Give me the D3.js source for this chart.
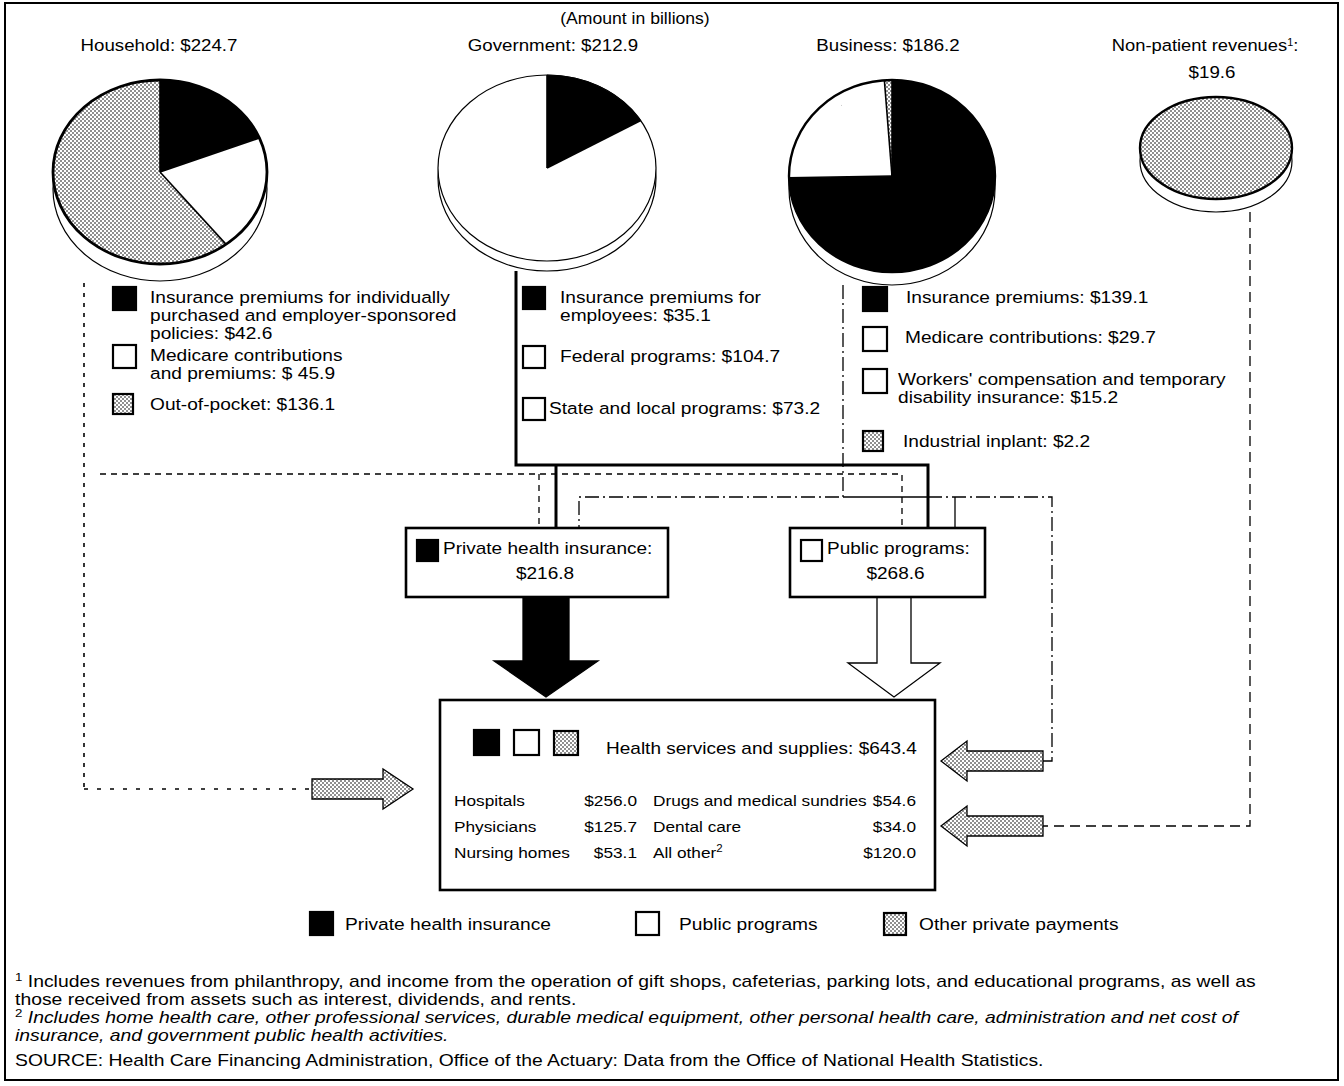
<!DOCTYPE html>
<html>
<head>
<meta charset="utf-8">
<script src="https://cdn.jsdelivr.net/npm/d3@7"></script>
<style>
  body { margin: 0; background: #fff; }
  svg text { font-family: "Liberation Sans", Arial, Helvetica, sans-serif; fill: #000; }
</style>
</head>
<body>
<svg id="chart" width="1344" height="1086"></svg>
<script>
// ---- data (amounts in billions) ----
var sourceNames = ["Household", "Government", "Business", "Non-patient revenues"];
var sourceTotals = [224.7, 212.9, 186.2, 19.6];

var householdLabels = [["Insurance premiums for individually", "purchased and employer-sponsored", "policies: $42.6"],
                       ["Medicare contributions", "and premiums: $ 45.9"],
                       ["Out-of-pocket: $136.1"]];
var householdValues = [42.6, 45.9, 136.1];
var householdKinds = ["private", "public", "other"];

var governmentLabels = [["Insurance premiums for", "employees: $35.1"],
                        ["Federal programs: $104.7"],
                        ["State and local programs: $73.2"]];
var governmentValues = [35.1, 104.7, 73.2];
var governmentKinds = ["private", "public", "public"];

var businessLabels = [["Insurance premiums: $139.1"],
                      ["Medicare contributions: $29.7"],
                      ["Workers' compensation and temporary", "disability insurance: $15.2"],
                      ["Industrial inplant: $2.2"]];
var businessValues = [139.1, 29.7, 15.2, 2.2];
var businessKinds = ["private", "public", "public", "other"];

var nonPatientValues = [19.6];
var nonPatientKinds = ["other"];

var channelNames = ["Private health insurance", "Public programs"];
var channelTotals = [216.8, 268.6];
var channelKinds = ["private", "public"];

var servicesTotal = 643.4;
var serviceNames = ["Hospitals", "Physicians", "Nursing homes", "Drugs and medical sundries", "Dental care", "All other"];
var serviceValues = [256.0, 125.7, 53.1, 54.6, 34.0, 120.0];

var legendKinds = ["private", "public", "other"];
var legendNames = ["Private health insurance", "Public programs", "Other private payments"];

var footnotes = [
  "Includes revenues from philanthropy, and income from the operation of gift shops, cafeterias, parking lots, and educational programs, as well as",
  "those received from assets such as interest, dividends, and rents.",
  "Includes home health care, other professional services, durable medical equipment, other personal health care, administration and net cost of",
  "insurance, and government public health activities.",
  "SOURCE: Health Care Financing Administration, Office of the Actuary: Data from the Office of National Health Statistics."
];

var svg = d3.select("#chart");
var fmt = d3.format(".1f");

// stipple fill used for "other private payments"
var defs = svg.append("defs");
var pat = defs.append("pattern").attr("id", "stip")
  .attr("width", 4).attr("height", 4).attr("patternUnits", "userSpaceOnUse");
pat.append("rect").attr("width", 4).attr("height", 4).attr("fill", "#fff");
pat.append("circle").attr("cx", 1).attr("cy", 1).attr("r", 0.8).attr("fill", "#000");
pat.append("circle").attr("cx", 3).attr("cy", 3).attr("r", 0.8).attr("fill", "#000");

function kindFill(k) {
  if (k == "private") return "#000";
  if (k == "public") return "#fff";
  return "url(#stip)";
}

// the scanned lettering is wider than Liberation Sans, so text gets a horizontal stretch
function addText(x, y, str, size, sx, anchor) {
  return svg.append("text")
    .attr("transform", "translate(" + x + "," + y + ") scale(" + sx + ",1)")
    .attr("text-anchor", anchor || "start")
    .style("font-size", size + "px")
    .text(str);
}

// outer frame
svg.append("rect").attr("x", 5).attr("y", 3).attr("width", 1333).attr("height", 1077)
  .attr("fill", "none").attr("stroke", "#000").attr("stroke-width", 2);

addText(635, 24, "(Amount in billions)", 16, 1.1, "middle");

/* ---- pies, drawn as tilted discs ---- */
var pieGen = d3.pie().sort(null).value(function(d) { return d; });

function slicePath(d, cx, cy, rx, ry) {
  if (d.endAngle - d.startAngle >= 2 * Math.PI - 1e-6) {
    return "M" + (cx - rx) + "," + cy + "A" + rx + "," + ry + " 0 1 1 " + (cx + rx) + "," + cy +
           "A" + rx + "," + ry + " 0 1 1 " + (cx - rx) + "," + cy + "Z";
  }
  var x0 = cx + rx * Math.sin(d.startAngle), y0 = cy - ry * Math.cos(d.startAngle),
      x1 = cx + rx * Math.sin(d.endAngle), y1 = cy - ry * Math.cos(d.endAngle),
      large = (d.endAngle - d.startAngle) > Math.PI ? 1 : 0;
  return "M" + cx + "," + cy + "L" + x0 + "," + y0 +
         "A" + rx + "," + ry + " 0 " + large + " 1 " + x1 + "," + y1 + "Z";
}

function drawPie(values, kinds, cx, cy, rx, ry, depth, edge) {
  var g = svg.append("g");
  var arcs = pieGen(values);
  // rim of the disc
  g.append("ellipse").attr("cx", cx).attr("cy", cy + depth).attr("rx", rx).attr("ry", ry)
    .attr("fill", "#fff").attr("stroke", "#000").attr("stroke-width", 1.2);
  g.selectAll("path.slice").data(arcs).enter().append("path")
    .attr("class", "slice")
    .attr("d", function(d) { return slicePath(d, cx, cy, rx, ry); })
    .attr("fill", function(d, i) { return kindFill(kinds[i]); })
    .attr("stroke", function(d, i) { return kinds[i] == "private" ? "#000" : "none"; })
    .attr("stroke-width", 0.8);
  // edges only where the fill changes (slices of the same kind read as one)
  arcs.forEach(function(d, i) {
    var prev = kinds[(i - 1 + kinds.length) % kinds.length];
    if (arcs.length > 1 && prev != kinds[i]) {
      g.append("line").attr("x1", cx).attr("y1", cy)
        .attr("x2", cx + rx * Math.sin(d.startAngle)).attr("y2", cy - ry * Math.cos(d.startAngle))
        .attr("stroke", "#000").attr("stroke-width", 1.6);
    }
  });
  g.append("ellipse").attr("cx", cx).attr("cy", cy).attr("rx", rx).attr("ry", ry)
    .attr("fill", "none").attr("stroke", "#000").attr("stroke-width", edge);
}

drawPie(householdValues, householdKinds, 160, 172, 107, 92, 17, 2.8);
drawPie(governmentValues, governmentKinds, 547, 168, 109, 93, 10, 1.2);
drawPie(businessValues, businessKinds, 892, 176, 103, 96, 13, 2.4);
drawPie(nonPatientValues, nonPatientKinds, 1216, 148, 76, 51, 13, 2.4);

// pie headers
var headerX = [159, 553, 888, 1205];
sourceNames.forEach(function(name, i) {
  if (i == 3) {
    var t = addText(headerX[i], 51, name, 17, 1.08, "middle");
    t.append("tspan").attr("baseline-shift", "super").style("font-size", "10px").text("1");
    t.append("tspan").text(":");
    addText(1212, 78, "$" + fmt(sourceTotals[i]), 17, 1.1, "middle");
  } else {
    addText(headerX[i], 51, name + ": $" + fmt(sourceTotals[i]), 17, 1.1, "middle");
  }
});

/* ---- legend blocks under each pie ---- */
function swatch(x, y, size, kind) {
  svg.append("rect").attr("x", x).attr("y", y).attr("width", size).attr("height", size)
    .attr("fill", kindFill(kind)).attr("stroke", "#000").attr("stroke-width", 2.2);
}

function legendBlock(labels, kinds, sx, ys, sizes, txs) {
  labels.forEach(function(lines, i) {
    swatch(sx, ys[i], sizes[i], kinds[i]);
    lines.forEach(function(line, j) {
      addText(txs[i], ys[i] + 16 + j * 18, line, 16.5, 1.16);
    });
  });
}

legendBlock(householdLabels, householdKinds, 113, [287, 345, 394], [23, 23, 20], [150, 150, 150]);
legendBlock(governmentLabels, governmentKinds, 523, [287, 346, 398], [22, 22, 22], [560, 560, 549]);
legendBlock(businessLabels, businessKinds, 863, [287, 327, 369, 431], [24, 24, 24, 20], [906, 905, 898, 903]);

/* ---- connector lines ---- */
var line = d3.line();
function connector(pts, width, dash) {
  svg.append("path").attr("d", line(pts)).attr("fill", "none")
    .attr("stroke", "#000").attr("stroke-width", width)
    .attr("stroke-dasharray", dash || null);
}

// household
connector([[84, 283], [84, 789]], 1.6, "4,6");
connector([[84, 789], [312, 789]], 1.6, "4,9");
connector([[100, 474], [902, 474], [902, 528]], 1.3, "6,5");
connector([[539, 474], [539, 528]], 1.3, "6,5");
// government
connector([[516, 271], [516, 465], [928, 465], [928, 528]], 3);
connector([[556, 465], [556, 528]], 3);
// business
connector([[843, 285], [843, 497], [579, 497], [579, 528]], 1.3, "14,4,2,4");
connector([[843, 497], [928, 497]], 1.3);
connector([[928, 497], [1052, 497], [1052, 761], [1043, 761]], 1.3, "14,4,2,4");
connector([[955, 497], [955, 528]], 1.3);
// non-patient
connector([[1250, 212], [1250, 826], [1043, 826]], 1.3, "10,6");

/* ---- block arrows ---- */
function hArrow(tail, tip, y, shaft, head, headLen) {
  var dir = tip > tail ? 1 : -1, neck = tip - dir * headLen;
  var pts = [[tail, y - shaft], [neck, y - shaft], [neck, y - head], [tip, y],
             [neck, y + head], [neck, y + shaft], [tail, y + shaft]];
  svg.append("polygon").attr("points", pts.join(" "))
    .attr("fill", "url(#stip)").attr("stroke", "#000").attr("stroke-width", 1.3);
}
function vArrow(x, tail, tip, shaft, head, headLen, fill) {
  var neck = tip - headLen;
  var pts = [[x - shaft, tail], [x - shaft, neck], [x - head, neck], [x, tip],
             [x + head, neck], [x + shaft, neck], [x + shaft, tail]];
  svg.append("polygon").attr("points", pts.join(" "))
    .attr("fill", fill).attr("stroke", "#000").attr("stroke-width", 1.3);
}

hArrow(312, 413, 789, 10, 20, 30);
hArrow(1043, 941, 761, 10, 20, 26);
hArrow(1043, 941, 826, 10, 20, 26);
vArrow(546, 597, 697, 23, 52, 36, "#000");
vArrow(894, 597, 697, 17, 46, 34, "#fff");

/* ---- channel boxes ---- */
var channelBox = [[406, 528, 262, 69], [790, 528, 195, 69]];
channelNames.forEach(function(name, i) {
  var b = channelBox[i];
  svg.append("rect").attr("x", b[0]).attr("y", b[1]).attr("width", b[2]).attr("height", b[3])
    .attr("fill", "#fff").attr("stroke", "#000").attr("stroke-width", 2.6);
  swatch(b[0] + 11, b[1] + 12, 21, channelKinds[i]);
  addText(b[0] + 37, b[1] + 26, name + ":", 17, 1.12);
  addText(b[0] + b[2] / 2 + 8, b[1] + 51, "$" + fmt(channelTotals[i]), 17, 1.12, "middle");
});

/* ---- health services box ---- */
svg.append("rect").attr("x", 440).attr("y", 700).attr("width", 495).attr("height", 190)
  .attr("fill", "#fff").attr("stroke", "#000").attr("stroke-width", 2.6);
swatch(474, 730, 25, "private");
swatch(514, 730, 25, "public");
swatch(554, 731, 24, "other");
addText(606, 754, "Health services and supplies: $" + fmt(servicesTotal), 17, 1.12);

var colLabelX = [454, 653], colValueX = [637, 916], rowY = [806, 832, 858];
serviceNames.forEach(function(name, i) {
  var col = Math.floor(i / 3), row = i % 3;
  var t = addText(colLabelX[col], rowY[row], name, 15, 1.15);
  if (name == "All other") {
    t.append("tspan").attr("baseline-shift", "super").style("font-size", "10px").text("2");
  }
  addText(colValueX[col], rowY[row], "$" + fmt(serviceValues[i]), 15, 1.15, "end");
});

/* ---- bottom legend ---- */
var legSwatchX = [310, 636, 884], legTextX = [345, 679, 919];
legendKinds.forEach(function(k, i) {
  swatch(legSwatchX[i], k == "other" ? 913 : 912, k == "other" ? 22 : 23, k);
  addText(legTextX[i], 930, legendNames[i], 17, 1.13);
});

/* ---- footnotes ---- */
var noteY = [987, 1005, 1023, 1041, 1066];
footnotes.forEach(function(note, i) {
  var t = addText(15, noteY[i], "", 16, 1.21);
  if (i == 0 || i == 2) {
    t.append("tspan").attr("baseline-shift", "super").style("font-size", "11px").text(i == 0 ? "1" : "2");
    t.append("tspan").text(" ");
  }
  t.append("tspan").style("font-style", (i == 2 || i == 3) ? "italic" : "normal").text(note);
});
</script>
</body>
</html>
